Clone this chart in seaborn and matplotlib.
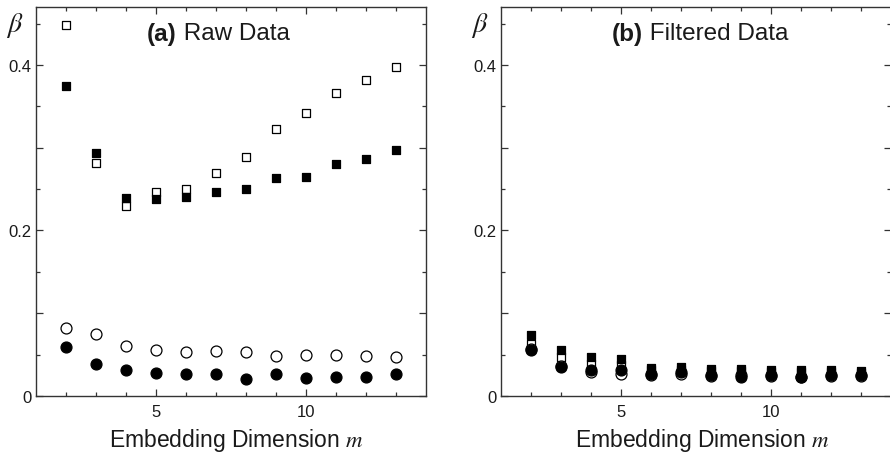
import numpy as np
import matplotlib
matplotlib.use("Agg")
import matplotlib.pyplot as plt
import seaborn as sns
from matplotlib.ticker import FixedLocator

m = [2, 3, 4, 5, 6, 7, 8, 9, 10, 11, 12, 13]

# (a) raw data
raw_open_sq = [0.448, 0.281, 0.229, 0.247, 0.250, 0.269, 0.289, 0.322, 0.342, 0.366, 0.382, 0.397]
raw_fill_sq = [0.374, 0.294, 0.239, 0.238, 0.240, 0.247, 0.250, 0.263, 0.265, 0.280, 0.286, 0.297]
raw_open_ci = [0.082, 0.075, 0.060, 0.056, 0.053, 0.054, 0.053, 0.048, 0.049, 0.049, 0.048, 0.047]
raw_fill_ci = [0.059, 0.039, 0.032, 0.028, 0.026, 0.027, 0.021, 0.026, 0.022, 0.023, 0.023, 0.027]

# (b) filtered data
filt_open_sq = [0.063, 0.047, 0.039, 0.037, 0.031, 0.031, 0.030, 0.030, 0.029, 0.029, 0.029, 0.028]
filt_fill_sq = [0.074, 0.056, 0.047, 0.045, 0.034, 0.035, 0.033, 0.033, 0.031, 0.031, 0.031, 0.030]
filt_open_ci = [0.057, 0.036, 0.029, 0.027, 0.025, 0.026, 0.024, 0.025, 0.024, 0.023, 0.024, 0.024]
filt_fill_ci = [0.055, 0.035, 0.031, 0.031, 0.027, 0.029, 0.025, 0.023, 0.025, 0.023, 0.025, 0.025]

y_ticks = [0, 0.1, 0.2, 0.3, 0.4]
y_labels = ["0", "", "0.2", "", "0.4"]

sns.set_theme(style="ticks")
plt.rcParams["font.family"] = ["Liberation Sans", "DejaVu Sans"]
plt.rcParams["mathtext.fontset"] = "stix"

SPINE = "#333333"
INK = "#1a1a1a"


def draw_panel(ax, open_sq, fill_sq, open_ci, fill_ci, tag, name):
	kw = dict(ax=ax, linewidth=0.9, edgecolor="black", legend=False, zorder=3)
	sns.scatterplot(x=m, y=open_sq, marker="s", s=40, color="white", **kw)
	sns.scatterplot(x=m, y=open_ci, marker="o", s=62, color="white", **kw)
	sns.scatterplot(x=m, y=fill_sq, marker="s", s=40, color="black", **kw)
	sns.scatterplot(x=m, y=fill_ci, marker="o", s=62, color="black", **kw)

	ax.set_xlim(1, 14)
	ax.set_ylim(0, 0.47)
	ax.set_xticks([5, 10])
	ax.xaxis.set_minor_locator(FixedLocator(m))
	ax.set_yticks(y_ticks)
	ax.set_yticklabels(y_labels)
	ax.yaxis.set_minor_locator(FixedLocator([0.05, 0.15, 0.25, 0.35, 0.45]))
	ax.tick_params(which="both", direction="in", top=True, right=True,
		colors=SPINE, labelcolor=INK, labelsize=12, pad=3, width=0.9)
	ax.tick_params(axis="x", which="both", pad=6)
	ax.tick_params(which="major", length=5)
	ax.tick_params(which="minor", length=3)
	for sp in ax.spines.values():
		sp.set_color(SPINE)
		sp.set_linewidth(1.0)

	ax.set_xlabel("Embedding Dimension $m$", fontsize=16.5, color=INK, labelpad=5, x=0.515)
	ax.set_ylabel("")
	ax.text(-0.055, 0.955, r"$\beta$", transform=ax.transAxes, fontsize=20,
		ha="center", va="center", color=INK)
	t = ax.text(0.285, 0.933, tag, transform=ax.transAxes, fontsize=17.5,
		fontweight="bold", ha="left", va="center", color=INK)
	ax.annotate(" " + name, xy=(1, 0.5), xycoords=t, fontsize=17.5,
		ha="left", va="center", color=INK)


fig = plt.figure(figsize=(8.9, 4.56), dpi=100)
ax_a = fig.add_axes([0.0404, 0.1294, 0.4382, 0.8531])
ax_b = fig.add_axes([0.5629, 0.1294, 0.4382, 0.8531])

draw_panel(ax_a, raw_open_sq, raw_fill_sq, raw_open_ci, raw_fill_ci, "(a)", "Raw Data")
draw_panel(ax_b, filt_open_sq, filt_fill_sq, filt_open_ci, filt_fill_ci, "(b)", "Filtered Data")

fig.savefig("out.png", dpi=100)
